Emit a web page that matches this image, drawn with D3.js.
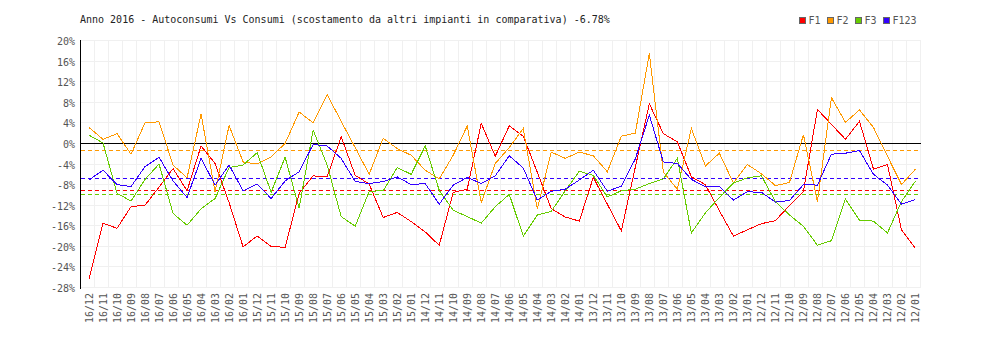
<!DOCTYPE html>
<html>
<head>
<meta charset="utf-8">
<script src="https://cdn.jsdelivr.net/npm/d3@7"></script>
<style>
  body { margin: 0; background: #fff; }
  svg { display: block; }
  text { font-family: "DejaVu Sans Mono", "Liberation Mono", monospace; font-size: 10px; }
</style>
</head>
<body>
<svg id="chart" width="1000" height="340"></svg>
<script>
// Months, newest first
const months = [
  "16/12","16/11","16/10","16/09","16/08","16/07","16/06","16/05","16/04","16/03","16/02","16/01",
  "15/12","15/11","15/10","15/09","15/08","15/07","15/06","15/05","15/04","15/03","15/02","15/01",
  "14/12","14/11","14/10","14/09","14/08","14/07","14/06","14/05","14/04","14/03","14/02","14/01",
  "13/12","13/11","13/10","13/09","13/08","13/07","13/06","13/05","13/04","13/03","13/02","13/01",
  "12/12","12/11","12/10","12/09","12/08","12/07","12/06","12/05","12/04","12/03","12/02","12/01"
];

// Deviation (%) per band
const f1 = [
  -26.4,-15.5,-16.5,-12.3,-12.0,-8.5,-4.9,-9.2,-0.5,-3.9,-11.5,-20.1,
  -18.0,-20.0,-20.2,-9.7,-6.3,-6.5,1.3,-6.2,-7.9,-14.4,-13.4,-15.2,
  -17.2,-19.8,-9.5,-8.9,3.9,-2.5,3.4,1.4,-5.6,-12.7,-14.3,-15.1,
  -6.6,-11.8,-17.0,-4.6,7.7,1.9,0.3,-6.5,-8.0,-13.1,-18.0,-16.8,
  -15.6,-15.0,-12.1,-9.3,6.6,3.7,0.8,4.3,-5.0,-4.1,-16.8,-20.4
];
const f2 = [
  3.1,0.8,1.9,-2.1,4.0,4.2,-4.2,-6.7,5.7,-9.4,3.5,-3.6,
  -4.0,-2.6,0.0,6.1,4.0,9.5,4.3,-0.8,-6.0,1.0,-1.0,-2.3,
  -5.2,-6.9,-2.3,3.4,-11.5,-3.9,-0.8,2.9,-12.7,-1.7,-2.9,-1.7,
  -2.4,-5.5,1.4,2.0,17.5,-5.6,-8.9,2.9,-4.4,-1.9,-7.7,-4.1,
  -5.9,-8.2,-7.6,1.7,-11.3,8.9,4.1,6.5,3.1,-2.5,-8.0,-5.0
];
const f3 = [
  1.6,0.1,-9.7,-11.2,-7.0,-4.0,-13.6,-15.9,-12.7,-10.7,-4.7,-4.2,
  -1.8,-9.5,-2.7,-12.6,2.6,-4.2,-14.2,-16.1,-9.3,-9.2,-4.7,-6.0,
  -0.5,-9.1,-13.0,-14.2,-15.5,-12.3,-9.9,-18.0,-13.9,-13.2,-9.2,-5.4,
  -6.2,-10.4,-9.2,-8.9,-7.8,-6.9,-2.9,-17.4,-13.5,-10.5,-7.7,-6.7,
  -6.3,-11.3,-13.9,-16.1,-19.8,-18.9,-10.8,-14.9,-15.1,-17.4,-11.3,-7.3
];
const f123 = [
  -7.1,-5.2,-8.0,-8.4,-4.5,-2.7,-7.3,-10.5,-2.9,-8.1,-4.2,-9.2,
  -7.9,-10.7,-7.3,-5.5,-0.2,-0.5,-2.9,-7.4,-7.8,-7.4,-6.5,-8.0,
  -7.8,-11.8,-8.1,-6.6,-7.8,-6.3,-2.4,-4.8,-11.0,-9.3,-8.9,-7.1,
  -5.2,-9.3,-8.3,-3.0,5.5,-3.6,-3.9,-7.0,-8.4,-8.4,-11.0,-9.4,
  -9.5,-11.4,-11.1,-8.0,-8.1,-2.1,-1.9,-1.4,-6.0,-8.1,-11.8,-10.9
];

const seriesNames = ["F1", "F2", "F3", "F123"];
const seriesColors = ["#ff0000", "#ff9900", "#66cc00", "#3300ff"];
// Average deviation of each band (dashed reference lines)
const averages = [-9.2, -1.4, -10.0, -6.78];
const yTicks = [20, 16, 12, 8, 4, 0, -4, -8, -12, -16, -20, -24, -28];
const title = "Anno 2016 - Autoconsumi Vs Consumi (scostamento da altri impianti in comparativa) -6.78%";

const svg = d3.select("#chart");
const plotL = 80.5, plotR = 920.5, plotT = 40.5, plotB = 287.5;

const xGrid = d3.scaleBand().domain(months).range([plotL, plotR]);
const x = d3.scalePoint().domain(months).range([89, 915.5]);
const y = d3.scaleLinear().domain([-28, 20]).range([plotB, plotT]);

const grid = svg.append("g").attr("shape-rendering", "crispEdges");
// horizontal grid
grid.selectAll("line.h").data(yTicks).join("line")
  .attr("class", "h")
  .attr("x1", plotL).attr("x2", plotR)
  .attr("y1", d => y(d)).attr("y2", d => y(d))
  .attr("stroke", "#f0f0f0");
// vertical grid on band edges
const edges = months.map(m => xGrid(m)).concat([plotR]);
grid.selectAll("line.v").data(edges).join("line")
  .attr("class", "v")
  .attr("x1", d => d).attr("x2", d => d)
  .attr("y1", plotT).attr("y2", plotB)
  .attr("stroke", "#f0f0f0");

// y labels
svg.append("g").selectAll("text").data(yTicks).join("text")
  .attr("x", 75).attr("y", d => y(d) + 1)
  .attr("dy", "0.35em")
  .attr("text-anchor", "end")
  .attr("fill", "#555")
  .text(d => d + "%");

// x labels, rotated
svg.append("g").selectAll("text").data(months).join("text")
  .attr("transform", d => `translate(${x(d)},293) rotate(-90)`)
  .attr("dy", "0.35em")
  .attr("text-anchor", "end")
  .attr("fill", "#555")
  .text(d => d);

// zero line and axis
svg.append("line").attr("x1", plotL).attr("x2", plotR)
  .attr("y1", y(0)).attr("y2", y(0))
  .attr("stroke", "#000").attr("shape-rendering", "crispEdges");
svg.append("line").attr("x1", plotL).attr("x2", plotL)
  .attr("y1", plotT - 0.5).attr("y2", plotB + 1)
  .attr("stroke", "#000").attr("shape-rendering", "crispEdges");

// dashed average lines
svg.append("g").selectAll("line").data(averages).join("line")
  .attr("x1", plotL).attr("x2", plotR)
  .attr("y1", d => y(d)).attr("y2", d => y(d))
  .attr("stroke", (d, i) => seriesColors[i])
  .attr("stroke-dasharray", "4,3")
  .attr("shape-rendering", "crispEdges");

// series lines, drawn as hard 1px polylines
const allSeries = [f1, f2, f3, f123];
const line = d3.line().x((d, i) => x(months[i])).y(d => y(d));
svg.append("g").selectAll("path").data(allSeries).join("path")
  .attr("d", d => line(d))
  .attr("fill", "none")
  .attr("stroke", (d, i) => seriesColors[i])
  .attr("stroke-width", 1)
  .attr("shape-rendering", "crispEdges");

// title
svg.append("text").attr("x", 80).attr("y", 23)
  .attr("fill", "#222")
  .text(title);

// legend
const legendX = [799.5, 827.5, 855.5, 883.5];
const lg = svg.append("g").selectAll("g").data(seriesNames).join("g")
  .attr("transform", (d, i) => `translate(${legendX[i]},17.5)`);
lg.append("rect").attr("width", 6).attr("height", 6)
  .attr("fill", (d, i) => seriesColors[i])
  .attr("stroke", "#666").attr("shape-rendering", "crispEdges");
lg.append("text").attr("x", 9).attr("y", 3).attr("dy", "0.35em")
  .attr("fill", "#555")
  .text(d => d);
</script>
</body>
</html>
